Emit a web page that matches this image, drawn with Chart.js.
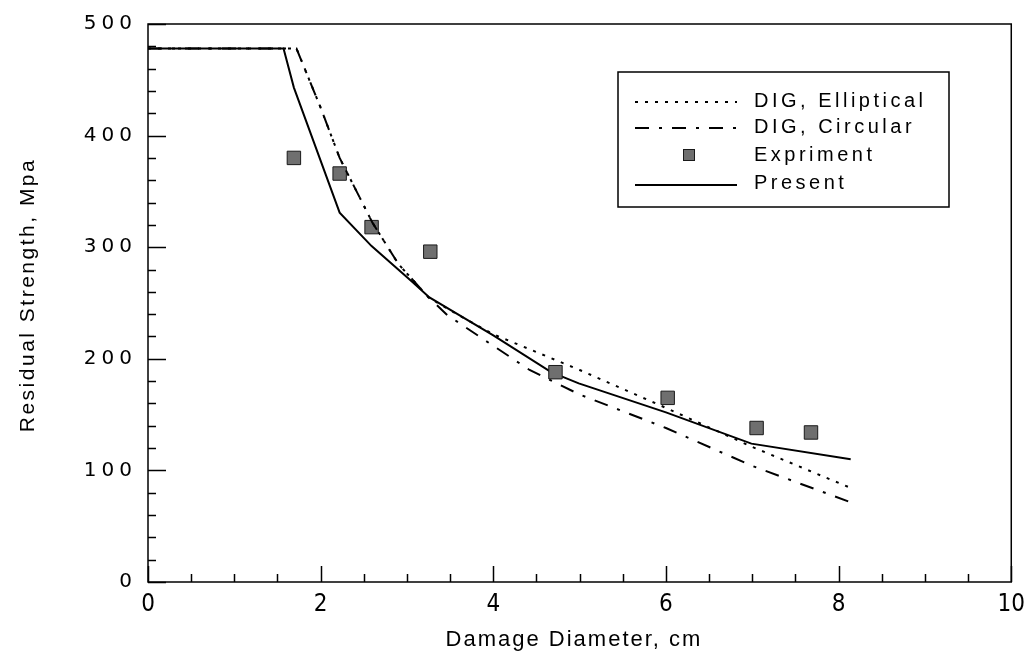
<!DOCTYPE html>
<html><head><meta charset="utf-8">
<script src="https://cdn.jsdelivr.net/npm/chart.js@4/dist/chart.umd.min.js"></script>
<style>html,body{margin:0;padding:0;background:#fff}#wrap{width:1033px;height:657px;position:relative}</style>
</head><body><div id="wrap"><canvas id="c"></canvas></div>
<script>
// ---- data ----
const xTickLabels = ['0', '2', '4', '6', '8', '10'];
const yTickLabels = ['0', '100', '200', '300', '400', '500'];
const seriesNames = ['DIG, Elliptical', 'DIG, Circular', 'Expriment', 'Present'];
const xTitle = 'Damage Diameter, cm';
const yTitle = 'Residual Strength, Mpa';

const ellipX = [0, 1.72, 2.0, 2.22, 2.6, 2.9, 3.25, 3.6, 4.0, 5.0, 6.0, 7.0, 8.15];
const ellipY = [478, 478, 425, 380, 322, 285, 255, 239, 222, 190, 156, 121, 84];

const circX = [0, 1.72, 2.0, 2.22, 2.6, 2.9, 3.25, 3.47, 4.42, 5.0, 6.0, 7.0, 8.12];
const circY = [478, 478, 425, 380, 322, 285, 255, 239, 190, 168, 138, 104, 72];

const expX = [1.69, 2.22, 2.59, 3.27, 4.72, 6.02, 7.05, 7.68];
const expY = [380, 366, 318, 296, 188, 165, 138, 134];

const presentX = [0, 1.57, 1.69, 2.22, 2.59, 3.06, 3.26, 4.0, 4.67, 4.99, 6.0, 6.99, 8.14];
const presentY = [478, 478, 443, 331, 301, 269, 255, 221, 188, 178, 152, 124, 110];

// ---- helpers / styles ----
const pts = (xs, ys) => xs.map((x, i) => ({x: x, y: ys[i]}));
const DOT = [3, 7];
const DASHDOT = [14, 10, 3, 10];
const SANS = '"Liberation Sans", Arial, Helvetica, sans-serif';
const WIDE = '"DejaVu Sans", "Liberation Sans", sans-serif';
const NARROW = '"Liberation Sans Narrow", "DejaVu Sans Condensed", "Liberation Sans", sans-serif';

const framePlugin = {
  id: 'frame',
  beforeDraw(chart) {
    const wrap = (sc, sp) => {
      if (sc._lsWrapped) return;
      const orig = sc.drawLabels;
      sc.drawLabels = function (a) {
        const c = this.ctx; c.save(); c.letterSpacing = sp; orig.call(this, a); c.restore();
      };
      sc._lsWrapped = true;
    };
    wrap(chart.scales.x, '0px');
    wrap(chart.scales.y, '5px');
  },
  afterDraw(chart) {
    const {ctx, chartArea: a, scales: {x: sx, y: sy}} = chart;
    ctx.save();
    ctx.strokeStyle = '#000';
    ctx.lineWidth = 1.5;
    ctx.setLineDash([]);
    ctx.strokeRect(a.left, a.top, a.right - a.left, a.bottom - a.top);
    // tick marks (inward)
    ctx.beginPath();
    for (let v = 0; v <= 500; v += 20) {
      const p = Math.round(sy.getPixelForValue(v)) + 0.5;
      const len = v % 100 === 0 ? 18 : 8;
      ctx.moveTo(a.left, p); ctx.lineTo(a.left + len, p);
    }
    for (let k = 0; k <= 20; k++) {
      const v = k * 0.5;
      const p = Math.round(sx.getPixelForValue(v)) + 0.5;
      const len = k % 4 === 0 ? 16 : 8;
      ctx.moveTo(p, a.bottom); ctx.lineTo(p, a.bottom - len);
    }
    ctx.stroke();

    // axis titles
    ctx.fillStyle = '#000';
    ctx.textAlign = 'center';
    ctx.textBaseline = 'middle';
    ctx.font = '22px ' + SANS;
    ctx.letterSpacing = '2px';
    ctx.fillText(xTitle, 574, 640);
    ctx.save();
    ctx.translate(28, 295);
    ctx.rotate(-Math.PI / 2);
    ctx.font = '21px ' + SANS;
    ctx.letterSpacing = '2.5px';
    ctx.fillText(yTitle, 0, 0);
    ctx.restore();

    // legend
    const L = {x: 618, y: 72, w: 331, h: 135};
    ctx.fillStyle = '#fff';
    ctx.fillRect(L.x, L.y, L.w, L.h);
    ctx.lineWidth = 1.5;
    ctx.strokeRect(L.x, L.y, L.w, L.h);
    const rows = [
      {t: 101, l: 102, kind: 'line', ds: 0},
      {t: 127, l: 128, kind: 'line', ds: 1},
      {t: 155, l: 155, kind: 'pt', ds: 2},
      {t: 183, l: 185, kind: 'line', ds: 3}
    ];
    ctx.font = '20px ' + SANS;
    ctx.letterSpacing = '3.5px';
    ctx.textAlign = 'left';
    rows.forEach((r, i) => {
      const ds = chart.data.datasets[r.ds];
      if (r.kind === 'line') {
        ctx.beginPath();
        ctx.strokeStyle = ds.borderColor;
        ctx.lineWidth = ds.borderWidth;
        ctx.setLineDash(ds.borderDash || []);
        ctx.moveTo(635, r.l); ctx.lineTo(737, r.l);
        ctx.stroke();
        ctx.setLineDash([]);
      } else {
        ctx.fillStyle = ds.backgroundColor;
        ctx.strokeStyle = ds.borderColor;
        ctx.lineWidth = 1;
        ctx.fillRect(683, r.l - 6, 12, 12);
        ctx.strokeRect(683.5, r.l - 5.5, 11, 11);
      }
      ctx.fillStyle = '#000';
      ctx.fillText(seriesNames[i], 754, r.t);
    });
    ctx.restore();
  }
};

new Chart(document.getElementById('c'), {
  type: 'scatter',
  data: {
    datasets: [
      {label: seriesNames[0], data: pts(ellipX, ellipY), showLine: true, pointRadius: 0,
       borderColor: '#000', borderWidth: 2, borderDash: DOT, tension: 0},
      {label: seriesNames[1], data: pts(circX, circY), showLine: true, pointRadius: 0,
       borderColor: '#000', borderWidth: 2, borderDash: DASHDOT, tension: 0},
      {label: seriesNames[2], data: pts(expX, expY), showLine: false, pointStyle: 'rect',
       pointRadius: 9.5, pointHoverRadius: 9.5, backgroundColor: '#6f6f6f', borderColor: '#1a1a1a', borderWidth: 1},
      {label: seriesNames[3], data: pts(presentX, presentY), showLine: true, pointRadius: 0,
       borderColor: '#000', borderWidth: 2, tension: 0}
    ]
  },
  options: {
    responsive: true,
    maintainAspectRatio: false,
    animation: false,
    events: [],
    layout: {padding: {left: 0, right: 20, top: 24, bottom: 0}},
    plugins: {legend: {display: false}, tooltip: {enabled: false}},
    scales: {
      x: {
        type: 'linear', min: 0, max: 10,
        ticks: {stepSize: 2, autoSkip: false, maxRotation: 0, padding: 8, color: '#000',
                font: {size: 24, family: NARROW},
                callback: (v, i) => xTickLabels[i]},
        grid: {display: false, drawTicks: false},
        border: {display: false},
        afterFit: (s) => { s.height = 75; }
      },
      y: {
        type: 'linear', min: 0, max: 500,
        ticks: {stepSize: 100, autoSkip: false, padding: 11, color: '#000',
                font: {size: 20, family: WIDE},
                callback: (v, i) => yTickLabels[i]},
        grid: {display: false, drawTicks: false},
        border: {display: false},
        afterFit: (s) => { s.width = 148; }
      }
    }
  },
  plugins: [framePlugin]
});
</script>
</body></html>
